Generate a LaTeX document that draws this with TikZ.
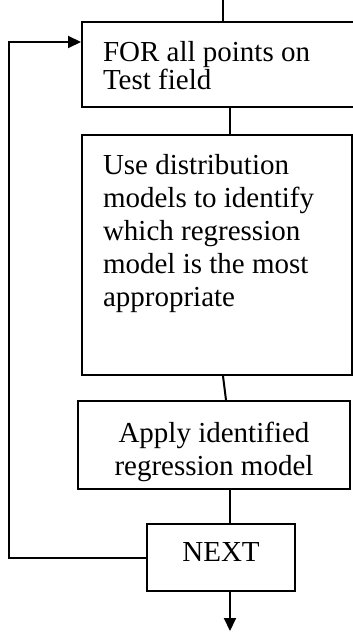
\documentclass[tikz,border=0pt]{standalone}
\usepackage{fontspec}
\setmainfont{Liberation Serif}
\usetikzlibrary{arrows.meta,calc}
\newcommand{\flowtext}[4]{\parbox[c][#1][t]{#2}{\vspace*{#3}#4}}
\tikzset{
  flowbox/.style={
    draw,
    line width=2pt,
    inner ysep=0pt,
    inner xsep=21pt,
    fill=white
  },
  flowline/.style={
    line width=2pt
  },
  flowarrow/.style={
    -{Triangle[length=13pt,width=12pt]},
    line width=2pt
  }
}

\begin{document}
\begin{tikzpicture}[x=1pt,y=-1pt,font=\fontsize{29}{33}\selectfont]
    \useasboundingbox (0,0) rectangle (353,632);
    \node[flowbox] (for) at (220,64.5) {\flowtext{85pt}{234pt}{19pt}{\fontsize{29}{28}\selectfont\raggedright FOR all points on\\Test field}};
    \node[flowbox] (use) at (217,255) {\flowtext{240pt}{228pt}{19pt}{\raggedright Use distribution\\models to identify\\which regression\\model is the most\\appropriate}};
    \node[flowbox, inner xsep=0pt] (apply) at (214,445) {\flowtext{88pt}{272pt}{21pt}{\centering Apply identified\\regression model}};
    \node[flowbox, inner xsep=0pt] (next) at (221,557.5) {\flowtext{67pt}{148pt}{19pt}{\centering NEXT}};

    \coordinate (entry) at (223,0);
    \coordinate (axis) at (230,0);
    \coordinate (back) at (9,42);
    \coordinate (exit) at (230,631);

    \draw[flowline] (entry) -- (entry |- for.north);
    \draw[flowline] (for.south -| axis) -- (use.north -| axis);
    \draw[flowline] ($(use.south west)+(142,0)$) -- ($(apply.north west)+(149,0)$);
    \draw[flowline] (apply.south -| axis) -- (next.north -| axis);
    \draw[flowarrow] (next.south -| axis) -- (exit);
    \draw[flowarrow] (next.west) -| (back) -- (back -| for.west);
  \end{tikzpicture}
\end{document}
